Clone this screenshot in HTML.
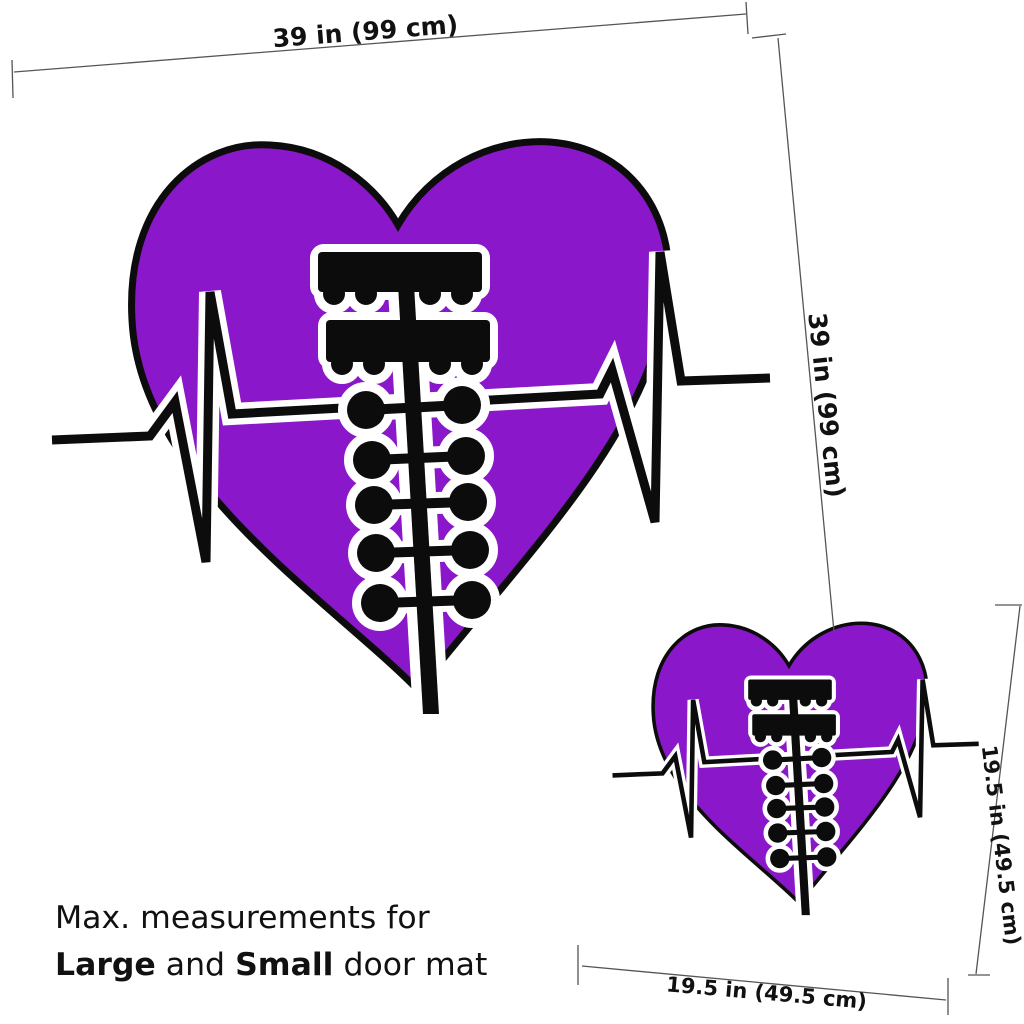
<!DOCTYPE html>
<html><head><style>
html,body{margin:0;padding:0;background:#fff;width:1024px;height:1024px;overflow:hidden}
svg{display:block}
text{font-family:"DejaVu Sans","Liberation Sans",sans-serif;fill:#111}
</style></head><body>
<svg width="1024" height="1024" viewBox="0 0 1024 1024">
<defs>
<g id="mat">
  <path d="M418,690 C330,600 140,480 132,320 C125,200 200,140 270,145 C330,148 375,185 398,225 C430,170 490,138 550,142 C630,148 675,215 668,290 C655,430 520,560 418,690 Z" fill="#8a17c9" stroke="#0c0c0c" stroke-width="7"/>
  <polyline points="52,440 150,436 175,402 206,562 210,292 232,414 600,394 612,370 655,522 660,252 681,381 770,378" fill="none" stroke="#fff" stroke-width="22"/>
  <polyline points="52,440 150,436 175,402 206,562 210,292 232,414 600,394 612,370 655,522 660,252 681,381 770,378" fill="none" stroke="#0c0c0c" stroke-width="9"/>
  <g fill="#fff" stroke="#fff" stroke-width="16" stroke-linejoin="round">
    <polygon points="396,290 416,290 441,716 421,716"/>
    <rect x="318" y="252" width="164" height="40" rx="6"/>
    <rect x="326" y="320" width="164" height="42" rx="6"/>
    <circle cx="334" cy="294" r="12"/><circle cx="366" cy="294" r="12"/><circle cx="430" cy="294" r="12"/><circle cx="462" cy="294" r="12"/>
    <circle cx="342" cy="364" r="12"/><circle cx="374" cy="364" r="12"/><circle cx="440" cy="364" r="12"/><circle cx="472" cy="364" r="12"/>
    <circle cx="366" cy="410" r="20"/><circle cx="462" cy="405" r="20"/>
    <circle cx="372" cy="460" r="20"/><circle cx="466" cy="456" r="20"/>
    <circle cx="374" cy="505" r="20"/><circle cx="468" cy="502" r="20"/>
    <circle cx="376" cy="553" r="20"/><circle cx="470" cy="550" r="20"/>
    <circle cx="380" cy="603" r="20"/><circle cx="472" cy="600" r="20"/>
  </g>
  <g stroke="#fff" stroke-width="22">
    <line x1="366" y1="410" x2="462" y2="405"/><line x1="372" y1="460" x2="466" y2="456"/><line x1="374" y1="505" x2="468" y2="502"/><line x1="376" y1="553" x2="470" y2="550"/><line x1="380" y1="603" x2="472" y2="600"/>
  </g>
  <g fill="#0c0c0c">
    <rect x="318" y="252" width="164" height="40" rx="4"/>
    <rect x="326" y="320" width="164" height="42" rx="4"/>
    <circle cx="334" cy="294" r="11"/><circle cx="366" cy="294" r="11"/><circle cx="430" cy="294" r="11"/><circle cx="462" cy="294" r="11"/>
    <circle cx="342" cy="364" r="11"/><circle cx="374" cy="364" r="11"/><circle cx="440" cy="364" r="11"/><circle cx="472" cy="364" r="11"/>
  </g>
  <g stroke="#0c0c0c" stroke-width="10">
    <line x1="366" y1="410" x2="462" y2="405"/><line x1="372" y1="460" x2="466" y2="456"/><line x1="374" y1="505" x2="468" y2="502"/><line x1="376" y1="553" x2="470" y2="550"/><line x1="380" y1="603" x2="472" y2="600"/>
  </g>
  <g fill="#0c0c0c">
    <polygon points="398,285 414,285 439,714 423,714"/>
    <circle cx="366" cy="410" r="19"/><circle cx="462" cy="405" r="19"/>
    <circle cx="372" cy="460" r="19"/><circle cx="466" cy="456" r="19"/>
    <circle cx="374" cy="505" r="19"/><circle cx="468" cy="502" r="19"/>
    <circle cx="376" cy="553" r="19"/><circle cx="470" cy="550" r="19"/>
    <circle cx="380" cy="603" r="19"/><circle cx="472" cy="600" r="19"/>
  </g>
</g>
</defs>
<use href="#mat"/>
<use href="#mat" transform="translate(586,551) scale(0.51)"/>
<g stroke="#555" stroke-width="1.3" fill="#555">
  <line x1="14" y1="72" x2="746" y2="14"/>
  <line x1="12" y1="60" x2="13" y2="98"/><line x1="746" y1="2" x2="748" y2="34"/>
  <line x1="778" y1="38" x2="834" y2="632"/>
  <line x1="752" y1="38" x2="786" y2="34"/>
  <line x1="1020" y1="606" x2="976" y2="974"/>
  <line x1="995" y1="605" x2="1022" y2="605"/><line x1="968" y1="975" x2="990" y2="975"/>
  <line x1="582" y1="966" x2="946" y2="1000"/>
  <line x1="578" y1="945" x2="578" y2="985"/><line x1="948" y1="978" x2="948" y2="1015"/>
</g>
<text x="0" y="0" font-size="25" font-weight="bold" text-anchor="middle" transform="translate(366,40) rotate(-4.5)">39 in (99 cm)</text>
<text x="0" y="0" font-size="25" font-weight="bold" text-anchor="middle" transform="translate(818,406) rotate(84)">39 in (99 cm)</text>
<text x="0" y="0" font-size="21" font-weight="bold" text-anchor="middle" transform="translate(994,846) rotate(83)">19.5 in (49.5 cm)</text>
<text x="0" y="0" font-size="21" font-weight="bold" text-anchor="middle" transform="translate(766,1000) rotate(5)">19.5 in (49.5 cm)</text>
<text x="55" y="928" font-size="31.5">Max. measurements for</text>
<text x="55" y="975" font-size="31.5"><tspan font-weight="bold">Large</tspan> and <tspan font-weight="bold">Small</tspan> door mat</text>
</svg>
</body></html>
